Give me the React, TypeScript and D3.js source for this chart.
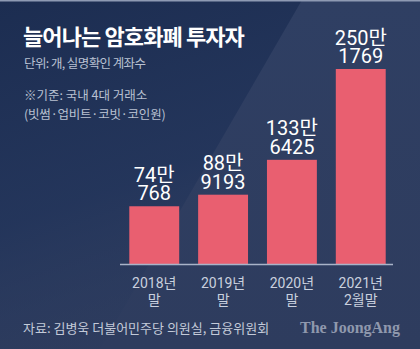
import React from "react";
import * as d3 from "d3";

const categories = ["2018년 말", "2019년 말", "2020년 말", "2021년 2월말"];
const catLine1 = ["2018년", "2019년", "2020년", "2021년"];
const catLine2 = ["말", "말", "말", "2월말"];
const values = [740768, 889193, 1336425, 2501769];

const W = 420;
const H = 349;
const FONT = "Roboto, 'Noto Sans CJK KR', sans-serif";
const KFONT = "'Noto Sans CJK KR', 'Noto Sans', sans-serif";

export default function App() {
  const x = d3
    .scaleBand<string>()
    .domain(categories)
    .range([120, 395])
    .paddingInner(0.275)
    .paddingOuter(0.135);
  const y = d3.scaleLinear().domain([0, d3.max(values) as number]).range([264, 69]);

  return (
    <svg
      width={W}
      height={H}
      style={{ position: "absolute", left: 0, top: 0, display: "block" }}
    >
      <defs>
        <linearGradient id="bg" x1="0" y1="0" x2="0" y2="1">
          <stop offset="0" stopColor="#2f3f63" />
          <stop offset="1" stopColor="#2e3c5e" />
        </linearGradient>
        <linearGradient id="dark" x1="0" y1="0" x2="0.3" y2="1">
          <stop offset="0" stopColor="#1c2d51" stopOpacity="1" />
          <stop offset="0.6" stopColor="#22345a" stopOpacity="0.85" />
          <stop offset="1" stopColor="#2a3a5d" stopOpacity="0.2" />
        </linearGradient>
      </defs>
      <rect x={0} y={0} width={W} height={H} fill="url(#bg)" />
      <polygon points={`0,0 302,0 100,${H} 0,${H}`} fill="url(#dark)" />
      <rect x={0} y={0} width={W} height={1.5} fill="#8e9ab3" />

      <text x={23} y={45} fill="#ffffff" fontFamily={KFONT} fontWeight={700} fontSize={22} letterSpacing={-0.9}>
        늘어나는 암호화폐 투자자
      </text>
      <text x={24} y={68} fill="#b9c1d2" fontFamily={KFONT} fontSize={12.5} letterSpacing={-0.6}>
        단위: 개, 실명확인 계좌수
      </text>
      <text x={24} y={100} fill="#b9c1d2" fontFamily={KFONT} fontSize={12.5}>
        ※기준: 국내 4대 거래소
      </text>
      <text x={24} y={119} fill="#b9c1d2" fontFamily={KFONT} fontSize={12.5} letterSpacing={-0.2}>
        (빗썸·업비트·코빗·코인원)
      </text>

      {categories.map((c, i) => (
        <rect
          key={c}
          x={x(c)}
          y={y(values[i])}
          width={x.bandwidth()}
          height={y(0) - y(values[i])}
          fill="#e95f70"
        />
      ))}

      <line x1={120} x2={393} y1={y(0) + 0.5} y2={y(0) + 0.5} stroke="#a9b3c8" strokeWidth={1.5} />

      {categories.map((c, i) => {
        const cx = (x(c) as number) + x.bandwidth() / 2;
        const top = y(values[i]);
        const v = values[i];
        return (
          <g key={c + "l"} fill="#ffffff" fontFamily={FONT} fontSize={20} textAnchor="middle">
            <text x={cx} y={top - 24.5}>{Math.floor(v / 10000) + "만"}</text>
            <text x={cx} y={top - 6}>{String(v % 10000)}</text>
          </g>
        );
      })}

      {categories.map((c, i) => {
        const cx = (x(c) as number) + x.bandwidth() / 2;
        return (
          <g key={c + "c"} fill="#c9d0de" fontFamily={FONT} fontSize={14} textAnchor="middle">
            <text x={cx} y={288}>{catLine1[i]}</text>
            <text x={cx} y={305}>{catLine2[i]}</text>
          </g>
        );
      })}

      <text x={23} y={333} fill="#c3cad9" fontFamily={KFONT} fontSize={13}>
        자료: 김병욱 더불어민주당 의원실, 금융위원회
      </text>
      <text
        x={400}
        y={333}
        textAnchor="end"
        fill="#8f98ad"
        fontFamily="'Liberation Serif', 'DejaVu Serif', serif"
        fontWeight={700}
        fontSize={16}
      >
        The JoongAng
      </text>
    </svg>
  );
}
